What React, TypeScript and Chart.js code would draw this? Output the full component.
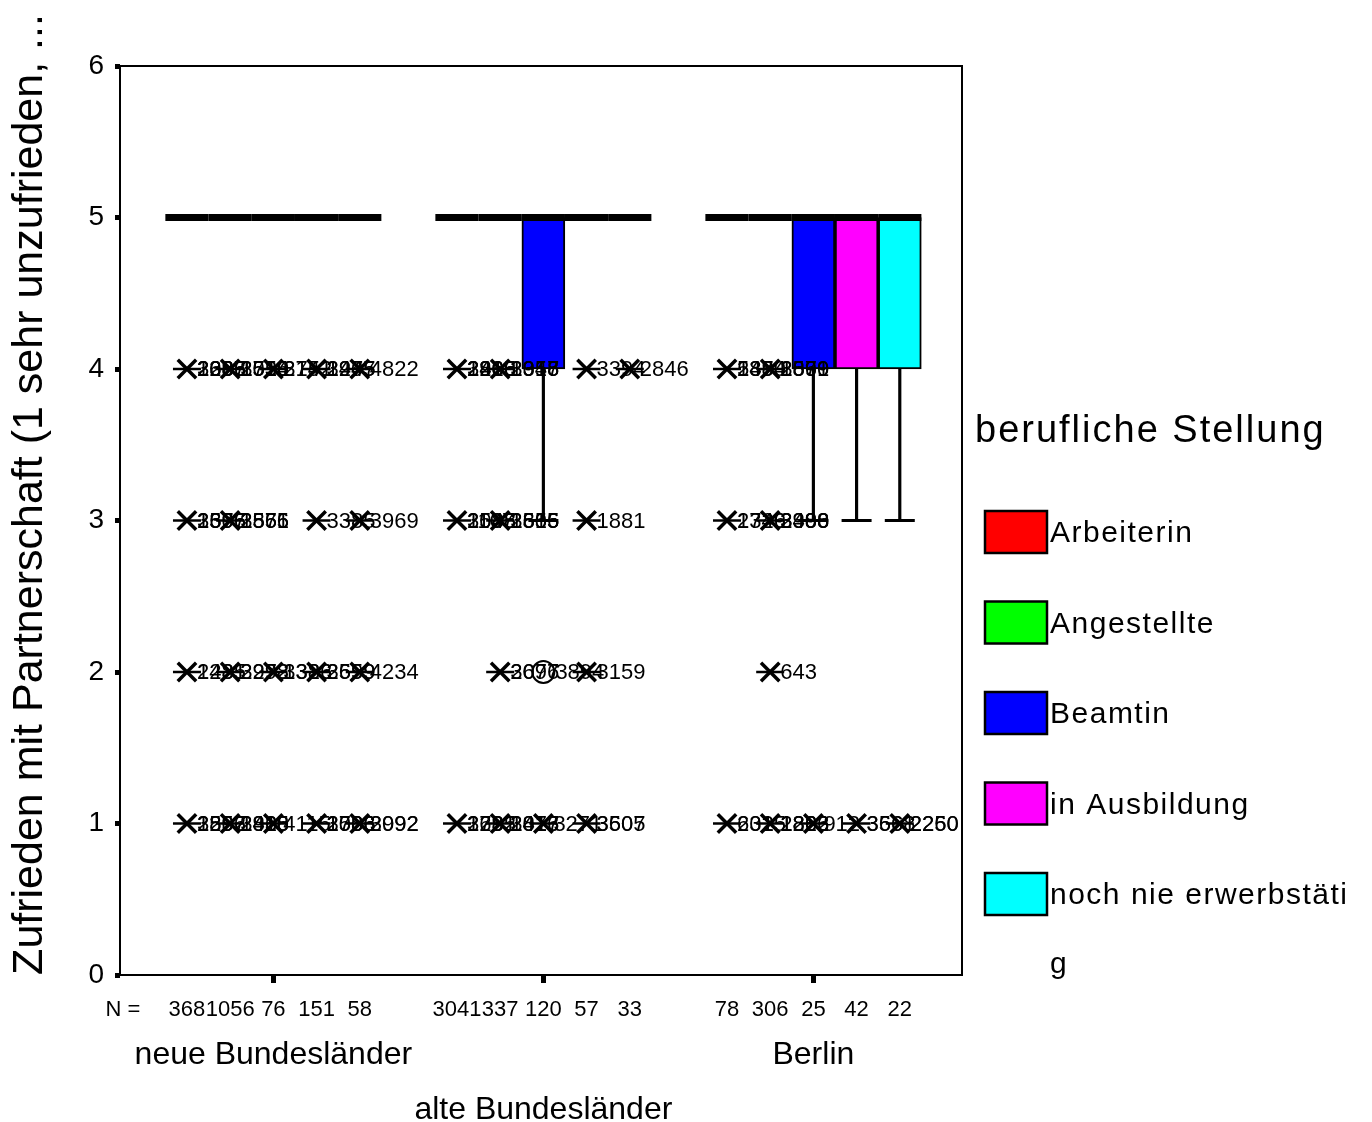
import React, { useEffect, useRef } from 'react';
import { Chart, registerables } from 'chart.js';

Chart.register(...registerables);

// ---------- data ----------
const groups = ['neue Bundesländer', 'alte Bundesländer', 'Berlin'];
const groupTickLabels = [['neue Bundesländer'], ['', 'alte Bundesländer'], ['Berlin']];
const categories = ['Arbeiterin', 'Angestellte', 'Beamtin', 'in Ausbildung', 'noch nie erwerbstätig'];
const legendLabels = [['Arbeiterin'], ['Angestellte'], ['Beamtin'], ['in Ausbildung'], ['noch nie erwerbstäti', 'g']];
const categoryColors = ['#FF0000', '#00FF00', '#0000FF', '#FF00FF', '#00FFFF'];
const legendTitle = 'berufliche Stellung';
const yTitle = 'Zufrieden mit Partnerschaft (1 sehr unzufrieden, ...';
const nPrefix = 'N =';

// case counts per group (rows) and occupational status (columns)
const counts = [
  [368, 1056, 76, 151, 58],
  [3041, 337, 120, 57, 33],
  [78, 306, 25, 42, 22],
];
const q1 = [
  [5, 5, 5, 5, 5],
  [5, 5, 4, 5, 5],
  [5, 5, 4, 4, 4],
];
const medians = [
  [5, 5, 5, 5, 5],
  [5, 5, 5, 5, 5],
  [5, 5, 5, 5, 5],
];
const q3 = [
  [5, 5, 5, 5, 5],
  [5, 5, 5, 5, 5],
  [5, 5, 5, 5, 5],
];
const whiskerLow = [
  [5, 5, 5, 5, 5],
  [5, 5, 3, 5, 5],
  [5, 5, 3, 3, 3],
];
const whiskerHigh = [
  [5, 5, 5, 5, 5],
  [5, 5, 5, 5, 5],
  [5, 5, 5, 5, 5],
];
const yTicks = [0, 1, 2, 3, 4, 5, 6];

// extreme values (*): [group, category, value, case labels]
const extremes: [number, number, number, string[]][] = [
  [0, 0, 4, ['2683', '1295', '3366', '2087']],
  [0, 1, 4, ['1550', '3010', '2514', '1736']],
  [0, 2, 4, ['3152', '2741']],
  [0, 3, 4, ['1947', '3475', '2205']],
  [0, 4, 4, ['4822']],
  [0, 0, 3, ['2696', '1305', '3577']],
  [0, 1, 3, ['2556', '1871', '3565']],
  [0, 3, 3, ['3385']],
  [0, 4, 3, ['3969']],
  [0, 0, 2, ['2285', '1431']],
  [0, 1, 2, ['3272', '2998']],
  [0, 2, 2, ['1383', '3326']],
  [0, 3, 2, ['2659', '3599']],
  [0, 4, 2, ['4234']],
  [0, 0, 1, ['3597', '1252', '2806']],
  [0, 1, 1, ['1930', '2868', '3415']],
  [0, 2, 1, ['4115']],
  [0, 3, 1, ['1506', '3086', '2733']],
  [0, 4, 1, ['3092', '2992']],
  [1, 0, 4, ['2816', '1460', '3903', '2205']],
  [1, 1, 4, ['1357', '2948', '3016']],
  [1, 3, 4, ['3394']],
  [1, 4, 4, ['2846']],
  [1, 0, 3, ['2045', '3588', '1107']],
  [1, 1, 3, ['2606', '1855', '3515']],
  [1, 3, 3, ['1881']],
  [1, 1, 2, ['3096', '2677']],
  [1, 3, 2, ['3159']],
  [1, 0, 1, ['3281', '1692', '2735']],
  [1, 1, 1, ['1816', '3077', '2413']],
  [1, 2, 1, ['3271']],
  [1, 3, 1, ['3605', '3507']],
  [2, 0, 4, ['588', '2394', '1470']],
  [2, 1, 4, ['3061', '1599', '2870']],
  [2, 0, 3, ['2746', '1329']],
  [2, 1, 3, ['3396', '2488', '3900']],
  [2, 1, 2, ['643']],
  [2, 0, 1, ['632', '2015']],
  [2, 1, 1, ['1822', '2266', '1863']],
  [2, 2, 1, ['912']],
  [2, 3, 1, ['3661', '3568']],
  [2, 4, 1, ['2260', '2250']],
];
// outliers (o): [group, category, value, case labels]
const outliers: [number, number, number, string[]][] = [
  [1, 2, 2, ['3894']],
];

// ---------- layout constants ----------
const X_MIN = -1.55;
const X_MAX = 17.94;
const GROUP_STEP = 6.25;
const pos = (g: number, c: number) => g * GROUP_STEP + c;
const FONT = '"Liberation Sans", Arial, Helvetica, sans-serif';

export default function App() {
  const ref = useRef<HTMLCanvasElement>(null);

  useEffect(() => {
    const canvas = ref.current!;
    Chart.defaults.font.family = FONT;
    Chart.defaults.color = '#000';

    const boxData: any[] = [];
    const boxColors: string[] = [];
    const whiskerData: any[] = [];
    const capData: any[] = [];
    const medianData: any[] = [];
    groups.forEach((_, g) =>
      categories.forEach((__, c) => {
        const x = pos(g, c);
        boxData.push({ x, y: [q1[g][c], q3[g][c]] });
        boxColors.push(categoryColors[c]);
        medianData.push({ x, y: medians[g][c] });
        if (whiskerLow[g][c] < q1[g][c]) {
          whiskerData.push({ x, y: [whiskerLow[g][c], q1[g][c]] });
          capData.push({ x, y: whiskerLow[g][c] });
        }
        if (whiskerHigh[g][c] > q3[g][c]) {
          whiskerData.push({ x, y: [q3[g][c], whiskerHigh[g][c]] });
          capData.push({ x, y: whiskerHigh[g][c] });
        }
      })
    );
    const extremePts = extremes.map(([g, c, v]) => ({ x: pos(g, c), y: v }));
    const outlierPts = outliers.map(([g, c, v]) => ({ x: pos(g, c), y: v }));

    const boxPositions = groups.flatMap((_, g) => categories.map((__, c) => pos(g, c)));
    const nTickValues = [X_MIN + 0.07, ...boxPositions];
    const nTickLabels = [nPrefix, ...counts.flat().map(String)];
    const groupCenters = groups.map((_, g) => pos(g, 2));

    const MEDIAN_INDEX = 3;

    const caseLabelPlugin = {
      id: 'caseLabels',
      afterDatasetDraw(chart: any, args: any) {
        if (args.index !== MEDIAN_INDEX) return;
        const { ctx } = chart;
        const xs = chart.scales.x;
        const ys = chart.scales.y;
        ctx.save();
        ctx.font = `22px ${FONT}`;
        ctx.fillStyle = '#000';
        ctx.textAlign = 'left';
        ctx.textBaseline = 'middle';
        extremes.forEach(([g, c, v, labels]) => {
          const px = xs.getPixelForValue(pos(g, c));
          const py = ys.getPixelForValue(v);
          labels.forEach((l) => ctx.fillText(l, px + 10, py + 1));
        });
        outliers.forEach(([g, c, v, labels]) => {
          const px = xs.getPixelForValue(pos(g, c));
          const py = ys.getPixelForValue(v);
          labels.forEach((l) => ctx.fillText(l, px + 12, py + 1));
        });
        ctx.restore();
      },
    };

    const framePlugin = {
      id: 'frame',
      beforeDatasetsDraw(chart: any) {
        const { ctx, chartArea: a } = chart;
        ctx.save();
        ctx.strokeStyle = '#000';
        ctx.lineWidth = 2;
        ctx.strokeRect(a.left, a.top, a.right - a.left, a.bottom - a.top);
        ctx.restore();
      },
    };

    const annotationPlugin = {
      id: 'titlesAndLegend',
      afterDraw(chart: any) {
        const { ctx, chartArea: a } = chart;
        ctx.save();
        ctx.fillStyle = '#000';
        // y axis title
        ctx.save();
        ctx.translate(30, (a.top + a.bottom) / 2 - 26);
        ctx.rotate(-Math.PI / 2);
        ctx.font = `43px ${FONT}`;
        ctx.textAlign = 'center';
        ctx.textBaseline = 'middle';
        ctx.fillText(yTitle, 0, 0);
        ctx.restore();
        // legend
        ctx.textAlign = 'left';
        ctx.textBaseline = 'middle';
        ctx.font = `38px ${FONT}`;
        (ctx as any).letterSpacing = '2px';
        ctx.fillText(legendTitle, 975, 432);
        ctx.font = `30px ${FONT}`;
        (ctx as any).letterSpacing = '1.5px';
        legendLabels.forEach((lines, i) => {
          const top = 511 + i * 90.5;
          ctx.fillStyle = categoryColors[i];
          ctx.fillRect(985, top, 62, 42);
          ctx.strokeStyle = '#000';
          ctx.lineWidth = 2.5;
          ctx.strokeRect(985, top, 62, 42);
          ctx.fillStyle = '#000';
          lines.forEach((line, j) => ctx.fillText(line, 1050, top + 23 + j * 69));
        });
        (ctx as any).letterSpacing = '0px';
        ctx.restore();
      },
    };

    const chart = new Chart(canvas, {
      type: 'bar',
      data: {
        datasets: [
          {
            type: 'scatter',
            label: 'outliers',
            data: outlierPts,
            pointStyle: 'circle',
            pointRadius: 11,
            pointHoverRadius: 11,
            pointBorderWidth: 2,
            pointBorderColor: '#000',
            pointBackgroundColor: 'rgba(0,0,0,0)',
            order: 0,
          } as any,
          {
            type: 'scatter',
            label: 'extremes-bar',
            data: extremePts,
            pointStyle: 'line',
            pointRadius: 14,
            pointHoverRadius: 14,
            pointBorderWidth: 2.5,
            pointBorderColor: '#000',
            order: 1,
          } as any,
          {
            type: 'scatter',
            label: 'extremes',
            data: extremePts,
            pointStyle: 'crossRot',
            pointRadius: 13,
            pointHoverRadius: 13,
            pointBorderWidth: 3.5,
            pointBorderColor: '#000',
            order: 2,
          } as any,
          {
            type: 'scatter',
            label: 'medians',
            data: medianData,
            pointStyle: 'line',
            pointRadius: 21.6,
            pointHoverRadius: 21.6,
            pointBorderWidth: 7,
            pointBorderColor: '#000',
            order: 3,
          } as any,
          {
            type: 'scatter',
            label: 'caps',
            data: capData,
            pointStyle: 'line',
            pointRadius: 15,
            pointHoverRadius: 15,
            pointBorderWidth: 3,
            pointBorderColor: '#000',
            order: 4,
          } as any,
          {
            type: 'bar',
            label: 'whiskers',
            data: whiskerData,
            backgroundColor: '#000',
            borderWidth: 0,
            barThickness: 2.5,
            grouped: false,
            order: 5,
          } as any,
          {
            type: 'bar',
            label: 'boxes',
            data: boxData,
            backgroundColor: boxColors,
            borderColor: '#000',
            borderWidth: 2,
            borderSkipped: false,
            barThickness: 43,
            grouped: false,
            order: 6,
          } as any,
        ],
      },
      options: {
        responsive: false,
        animation: false,
        devicePixelRatio: 1,
        events: [],
        layout: { padding: { left: 0, top: 66, right: 410, bottom: 0 } },
        plugins: {
          legend: { display: false },
          tooltip: { enabled: false },
        },
        scales: {
          x: {
            type: 'linear',
            position: 'bottom',
            weight: 0,
            min: X_MIN,
            max: X_MAX,
            offset: false,
            border: { display: false },
            grid: {
              offset: false,
              drawOnChartArea: false,
              drawTicks: true,
              tickLength: 8,
              tickWidth: 5,
              tickColor: (ctx: any) => (ctx.index % 5 === 3 ? '#000' : 'rgba(0,0,0,0)'),
            },
            afterBuildTicks: (scale: any) => {
              scale.ticks = nTickValues.map((v) => ({ value: v }));
            },
            afterFit: (scale: any) => {
              scale.height = 53;
            },
            ticks: {
              autoSkip: false,
              maxRotation: 0,
              minRotation: 0,
              padding: 14,
              font: { size: 22 },
              color: '#000',
              callback: (_v: any, i: number) => nTickLabels[i],
            },
          },
          x2: {
            type: 'linear',
            position: 'bottom',
            weight: 1,
            min: X_MIN,
            max: X_MAX,
            offset: false,
            border: { display: false },
            grid: { display: false, drawTicks: false, offset: false },
            afterBuildTicks: (scale: any) => {
              scale.ticks = groupCenters.map((v) => ({ value: v }));
            },
            afterFit: (scale: any) => {
              scale.height = 94;
            },
            ticks: {
              autoSkip: false,
              maxRotation: 0,
              minRotation: 0,
              padding: 0,
              font: { size: 32, lineHeight: 55 / 32 },
              color: '#000',
              callback: (_v: any, i: number) => groupTickLabels[i],
            },
          },
          y: {
            type: 'linear',
            min: 0,
            max: 6,
            border: { display: false },
            grid: {
              drawOnChartArea: false,
              drawTicks: true,
              tickLength: 5,
              tickWidth: 5,
              tickColor: '#000',
            },
            afterBuildTicks: (scale: any) => {
              scale.ticks = yTicks.map((v) => ({ value: v }));
            },
            afterFit: (scale: any) => {
              scale.width = 120;
            },
            ticks: {
              padding: 11,
              font: { size: 28 },
              color: '#000',
            },
          },
        },
      } as any,
      plugins: [framePlugin, caseLabelPlugin, annotationPlugin],
    });

    return () => chart.destroy();
  }, []);

  return (
    <div style={{ position: 'absolute', left: 0, top: 0, width: 1372, height: 1122, background: '#fff' }}>
      <canvas ref={ref} width={1372} height={1122} style={{ display: 'block', width: 1372, height: 1122 }} />
    </div>
  );
}
